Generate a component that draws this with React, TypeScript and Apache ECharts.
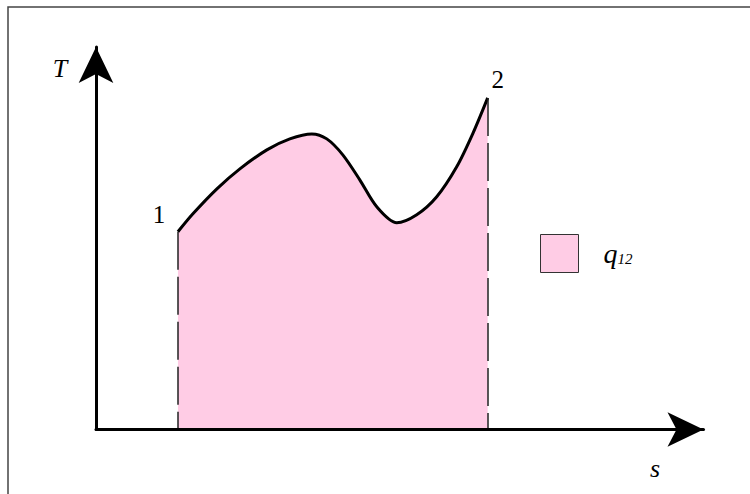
import React, { useEffect, useRef } from "react";
import * as echarts from "echarts";

// Curve of the process 1 → 2 on the T–s plane (units: arbitrary)
const sValues = [82, 97, 121, 144, 171, 194, 216, 231, 247, 264, 281, 301, 321, 341, 361, 377, 392];
const tValues = [198, 216, 241, 261, 280, 291, 296, 291, 275, 250, 223, 207, 215, 233, 263, 296, 332];
const pointLabels = ["1", "2"];
const seriesName = "q12";
const xAxisName = "s";
const yAxisName = "T";
const sMax = 608;
const tMax = 383;

const FONT = "'Liberation Serif', 'DejaVu Serif', serif";

export default function App() {
  const ref = useRef<HTMLDivElement>(null);
  useEffect(() => {
    if (!ref.current) return;
    const chart = echarts.init(ref.current, undefined, { renderer: "svg" });
    const curve = sValues.map((s, i) => [s, tValues[i]]);
    const first = curve[0];
    const last = curve[curve.length - 1];
    const offsets = [
      [-19, -17],
      [10, -18],
    ];
    const axisCommon = {
      type: "value",
      min: 0,
      z: 5,
      axisLine: {
        show: true,
        onZero: false,
        symbol: ["none", "arrow"],
        symbolSize: [26, 36],
        lineStyle: { color: "#000", width: 3 },
      },
      axisTick: { show: false },
      axisLabel: { show: false },
      splitLine: { show: false },
    };
    chart.setOption({
      animation: false,
      backgroundColor: "#fff",
      grid: { left: 96, right: 46.5, top: 47, bottom: 64.5 },
      xAxis: { ...axisCommon, max: sMax },
      yAxis: {
        ...axisCommon,
        max: tMax,
        name: yAxisName,
        nameLocation: "end",
        nameGap: -21,
        nameTextStyle: {
          fontFamily: FONT,
          fontStyle: "italic",
          fontSize: 26,
          color: "#000",
          align: "center",
          verticalAlign: "middle",
          padding: [0, 72, 0, 0],
        },
      },
      legend: {
        left: 540,
        top: 234,
        padding: 0,
        itemWidth: 38,
        itemHeight: 38,
        data: [
          {
            name: seriesName,
            icon: "rect",
            itemStyle: { color: "#ffcce5", borderColor: "#333", borderWidth: 1 },
          },
        ],
        formatter: () => "{q|q}{n|12}",
        textStyle: {
          rich: {
            q: {
              fontFamily: FONT,
              fontStyle: "italic",
              fontSize: 28,
              color: "#000",
              padding: [0, 0, 0, 20],
            },
            n: {
              fontFamily: FONT,
              fontStyle: "italic",
              fontSize: 15,
              color: "#000",
              verticalAlign: "bottom",
              padding: [0, 0, 1, 0],
            },
          },
        },
        selectedMode: false,
      },
      graphic: [
        {
          type: "rect",
          shape: { x: 8, y: 7, width: 800, height: 600 },
          style: { fill: "none", stroke: "#444", lineWidth: 1.5 },
          silent: true,
          z: 100,
        },
        {
          type: "text",
          x: 655,
          y: 468,
          silent: true,
          style: {
            text: xAxisName,
            fontFamily: FONT,
            fontStyle: "italic",
            fontSize: 26,
            fill: "#000",
            align: "center",
            verticalAlign: "middle",
          },
        },
      ],
      series: [
        {
          name: seriesName,
          type: "line",
          data: curve,
          smooth: 0.3,
          showSymbol: false,
          symbol: "none",
          lineStyle: { color: "#000", width: 3 },
          itemStyle: { color: "#ffcce5" },
          areaStyle: { color: "#ffcce5", opacity: 1 },
          z: 2,
          markLine: {
            silent: true,
            symbol: ["none", "none"],
            label: { show: false },
            lineStyle: { color: "#222", width: 1.5, type: [38, 7] },
            data: [
              [{ coord: [first[0], first[1]] }, { coord: [first[0], 0] }],
              [{ coord: [last[0], last[1]] }, { coord: [last[0], 0] }],
            ],
          },
        },
        {
          name: "points",
          type: "scatter",
          symbolSize: 0,
          itemStyle: { color: "#000", opacity: 1 },
          silent: true,
          z: 6,
          data: [first, last].map((p, i) => ({
            value: p,
            label: {
              show: true,
              position: "inside",
              offset: offsets[i],
              formatter: pointLabels[i],
              fontFamily: FONT,
              fontSize: 25,
              color: "#000",
              opacity: 1,
              textBorderWidth: 0,
            },
          })),
        },
      ],
    });
    return () => chart.dispose();
  }, []);
  return (
    <div
      ref={ref}
      style={{ position: "fixed", left: 0, top: 0, width: 750, height: 494, background: "#fff" }}
    />
  );
}
